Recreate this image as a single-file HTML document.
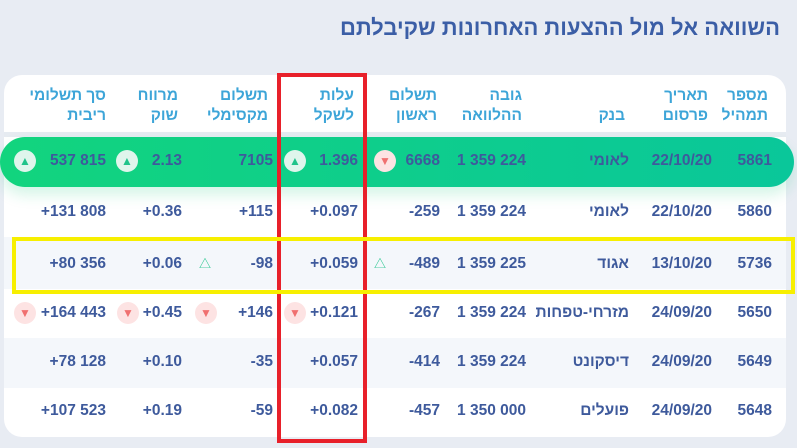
<!DOCTYPE html>
<html><head><meta charset="utf-8"><style>
body{margin:0;width:797px;height:448px;background:#e8ecf3;position:relative;overflow:hidden;font-family:"Liberation Sans","Noto Sans CJK SC",sans-serif}
.t{position:absolute;right:17px;top:15px;color:#3b5ea6;font-size:22px;font-weight:bold;direction:rtl}
.card{position:absolute;left:4px;top:75px;width:782px;height:362px;background:#fff;border-radius:18px}
.hb{position:absolute;left:4px;top:132px;width:782px;height:5px;background:#e6ebf1}
.row{position:absolute;left:4px;width:782px}
.g{position:absolute;left:0;top:137px;width:794px;height:50px;background:linear-gradient(90deg,#12d47e,#0ac79a);border-radius:25px;box-shadow:0 8px 14px rgba(20,200,120,.18)}
.c{position:absolute;font-size:15.5px;font-weight:bold;color:#3e5a9c;white-space:nowrap;transform:translateY(-50%)}
.h{position:absolute;font-size:15.5px;font-weight:bold;color:#3da5d8;direction:rtl;text-align:right;line-height:20px;top:86px;white-space:nowrap}
.i{position:absolute;width:22px;height:22px;border-radius:50%;transform:translate(-50%,-50%);font-size:12px;text-align:center;line-height:22px}
.up{background:#dff5ec;color:#1fc38a}
.dn{background:#fde3e3;color:#f07070}
.o{background:transparent;color:#1fc38a}
</style></head><body>
<div class="t">השוואה אל מול ההצעות האחרונות שקיבלתם</div>
<div class="card"></div>
<div class="hb"></div>
<div class="row" style="top:237px;height:52px;background:#f4f7fb"></div>
<div class="row" style="top:338px;height:50px;background:#f4f7fb"></div>
<div class="g"></div>

<div class="h" style="right:29px">מספר<br>תמהיל</div>
<div class="h" style="right:89px">תאריך<br>פרסום</div>
<div class="h" style="right:172px">&nbsp;<br>בנק</div>
<div class="h" style="right:275px">גובה<br>ההלוואה</div>
<div class="h" style="right:360px">תשלום<br>ראשון</div>
<div class="h" style="right:443px">עלות<br>לשקל</div>
<div class="h" style="right:529px">תשלום<br>מקסימלי</div>
<div class="h" style="right:619px">מרווח<br>שוק</div>
<div class="h" style="right:691px">סך תשלומי<br>ריבית</div>

<div id="d"></div>
<script>
var R=[772,712,629,526,440,358,273,182,106];
var rows=[[161,["5861","22/10/20","לאומי","1 359 224","6668","1.396","7105","2.13","537 815"]],
[212,["5860","22/10/20","לאומי","1 359 224","-259","+0.097","+115","+0.36","+131 808"]],
[264,["5736","13/10/20","אגוד","1 359 225","-489","+0.059","-98","+0.06","+80 356"]],
[313,["5650","24/09/20","מזרחי-טפחות","1 359 224","-267","+0.121","+146","+0.45","+164 443"]],
[362,["5649","24/09/20","דיסקונט","1 359 224","-414","+0.057","-35","+0.10","+78 128"]],
[411,["5648","24/09/20","פועלים","1 350 000","-457","+0.082","-59","+0.19","+107 523"]]];
var h="";
rows.forEach(function(r){r[1].forEach(function(v,k){h+='<div class="c" style="top:'+r[0]+'px;right:'+(797-R[k])+'px;'+(k==2?'direction:rtl;':'')+'">'+v+'</div>';});});
var ic=[[25,161,"up","▲"],[127,161,"up","▲"],[295,161,"up","▲"],[385,161,"dn","▼"],
[205,264,"o","△"],[380,264,"o","△"],
[25,313,"dn","▼"],[128,313,"dn","▼"],[206,313,"dn","▼"],[295,313,"dn","▼"]];
ic.forEach(function(a){h+='<div class="i '+a[2]+'" style="left:'+a[0]+'px;top:'+a[1]+'px">'+a[3]+'</div>';});
document.getElementById("d").innerHTML=h;
</script>
<div style="position:absolute;left:277px;top:73px;width:82px;height:362px;border:4px solid #e8202a"></div>
<div style="position:absolute;left:12px;top:237px;width:775px;height:49px;border:4px solid #f7ef00"></div>
</body></html>
